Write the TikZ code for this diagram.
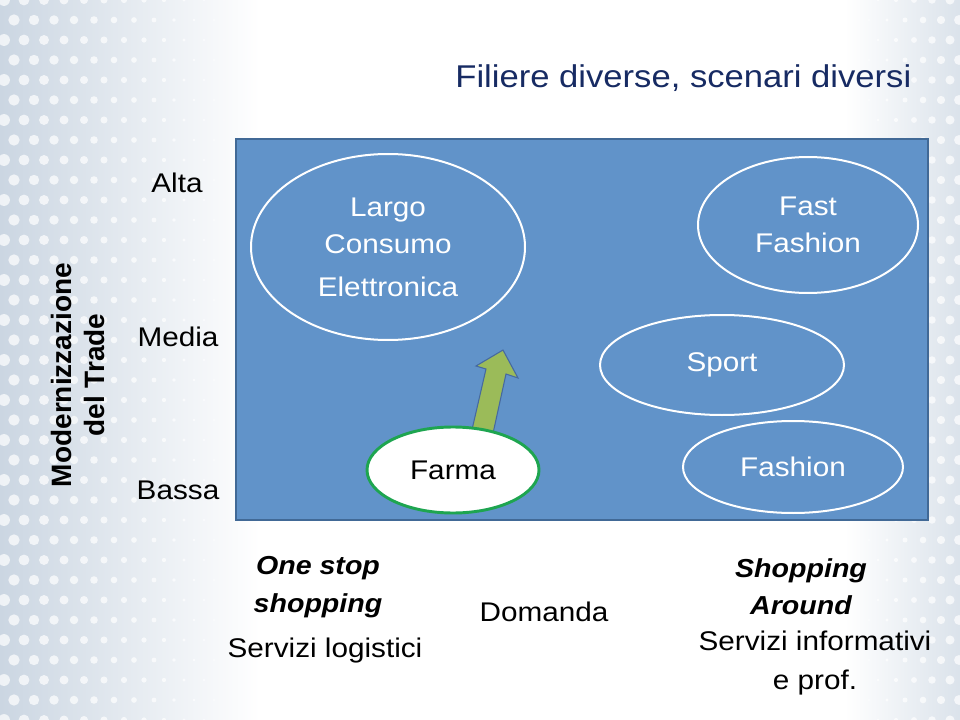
\documentclass[tikz,border=0pt]{standalone}
\usepackage{fontspec}
\setmainfont{Liberation Sans}
\newfontfamily\widefont[FakeStretch=1.1]{Liberation Sans}
\usetikzlibrary{shapes.geometric}
\definecolor{bgtint}{RGB}{203,214,226}
\definecolor{panelfill}{RGB}{97,147,201}
\definecolor{paneldraw}{RGB}{65,105,150}
\definecolor{titleblue}{RGB}{23,43,99}
\definecolor{farmagreen}{RGB}{30,165,80}
\definecolor{arrowgreen}{RGB}{155,187,89}
\definecolor{arrowline}{RGB}{70,105,160}
\tikzset{
  bubble/.style={ellipse, draw=white, line width=1.5pt, inner sep=0pt,
    text=white, align=center, font=\widefont\fontsize{20.25pt}{27.75pt}\selectfont},
  axislabel/.style={font=\widefont\fontsize{20.25pt}{22pt}\selectfont, text=black},
  bottomlabel/.style={font=\widefont\fontsize{20.25pt}{29pt}\selectfont, text=black, align=center},
  bottomtitle/.style={font=\widefont\bfseries\itshape\fontsize{19.5pt}{28pt}\selectfont, text=black, align=center}
}
\begin{document}
\begin{tikzpicture}[x=0.75pt,y=-0.75pt]
\useasboundingbox (0,0) rectangle (960,720);
% background
\fill[white] (0,0) rectangle (960,720);
\shade[left color=bgtint, right color=white] (0,0) rectangle (260,720);
\shade[left color=white, right color=bgtint!70] (845,0) rectangle (960,720);
\foreach \row in {0,...,36}{
  \foreach \col in {0,...,12}{
    \pgfmathsetmacro{\xx}{\col*20 + mod(\row,2)*10 + 4}
    \pgfmathsetmacro{\rr}{max(0.3,6*(1-\xx/255))}
    \fill[white, opacity=0.7] (\xx,\row*20) circle[radius=\rr];
  }
  \foreach \col in {0,...,5}{
    \pgfmathsetmacro{\xx}{860 + \col*18 + mod(\row,2)*9}
    \pgfmathsetmacro{\rr}{max(0.3,5*(\xx-850)/110)}
    \fill[white, opacity=0.7] (\xx,\row*20) circle[radius=\rr];
  }
}
% title
\node[font=\widefont\fontsize{23.6pt}{28pt}\selectfont, text=titleblue, anchor=east] (title) at (916,78) {Filiere diverse, scenari diversi};
% panel
\node[draw=paneldraw, fill=panelfill, line width=1.2pt, minimum width=519pt, minimum height=285.75pt, inner sep=0pt] (panel) at (582,329.5) {};
% bubbles
\node[bubble, minimum width=205.5pt, minimum height=139.5pt] (largo) at (388,247) {};
\node[align=center, text=white, font=\widefont\fontsize{20.25pt}{27.75pt}\selectfont] (largotext) at (largo.center) {Largo\\Consumo\\[4.5pt]Elettronica};
\node[bubble, minimum width=165pt, minimum height=102pt] (fastfashion) at (808,225) {Fast\\Fashion};
\node[bubble, minimum width=183pt, minimum height=75pt] (sport) at (722,365) {Sport};
\node[bubble, minimum width=165pt, minimum height=69pt] (fashion) at (793,467) {Fashion};
% arrow from Farma towards Largo Consumo
\coordinate (arrowtip) at (503,350);
\fill[arrowgreen, draw=arrowline, line width=0.8pt, line join=miter]
  (471,434) -- (486,369) -- (476,366) -- (arrowtip) -- (518,378) -- (506,374) -- (492,438) -- cycle;
\node[ellipse, draw=farmagreen, fill=white, line width=2.2pt, inner sep=0pt,
  minimum width=129pt, minimum height=64.5pt, font=\widefont\fontsize{20.25pt}{22pt}\selectfont] (farma) at (453,470) {Farma};
% axis
\node[axislabel] (alta) at (177,183) {Alta};
\node[axislabel] (media) at (178,337) {Media};
\node[axislabel] (bassa) at (178,490) {Bassa};
\node[rotate=90, align=center, font=\bfseries\fontsize{21pt}{25pt}\selectfont] (ylabel) at (78,375) {Modernizzazione\\del Trade};
% bottom
\node[bottomtitle] (onestop) at (318,587) {One stop\\shopping};
\node[bottomlabel] (logistici) at (325,651) {Servizi logistici};
\node[bottomlabel] (domanda) at (544,612) {Domanda};
\node[bottomtitle] (around) at (801,587) {Shopping\\Around};
\node[bottomlabel] (informativi) at (815,663) {Servizi informativi\\e prof.};
\end{tikzpicture}
\end{document}
